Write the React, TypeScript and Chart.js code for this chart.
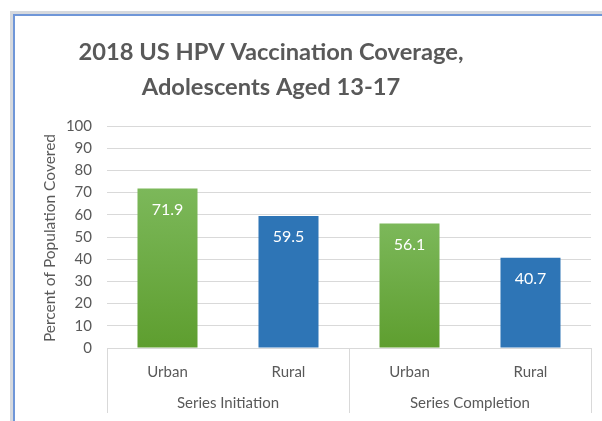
import React, { useEffect, useRef } from 'react';
import { Chart, registerables } from 'chart.js';

Chart.register(...registerables);

const titleLines = ['2018 US HPV Vaccination Coverage,', 'Adolescents Aged 13-17'];
const groups = ['Series Initiation', 'Series Completion'];
const subCategories = ['Urban', 'Rural', 'Urban', 'Rural'];
const values = [71.9, 59.5, 56.1, 40.7];
const yTitle = 'Percent of Population Covered';
const yMin = 0;
const yMax = 100;
const yStep = 10;

const FONT = 'Lato, "Open Sans", sans-serif';
const TEXT = '#595959';
const GRID = '#d9d9d9';
const BLUE = '#2e75b6';
const GREEN_TOP = '#7cb85a';
const GREEN_BOTTOM = '#5e9e2f';

function barColor(ctx: any) {
  const i = ctx.dataIndex;
  if (subCategories[i] === 'Rural') return BLUE;
  const chart = ctx.chart;
  const y = chart.scales && chart.scales.y;
  if (!chart.chartArea || !y) return GREEN_BOTTOM;
  const top = y.getPixelForValue(values[i]);
  const bottom = y.getPixelForValue(0);
  if (!isFinite(top) || !isFinite(bottom) || top === bottom) return GREEN_BOTTOM;
  const g = chart.ctx.createLinearGradient(0, top, 0, bottom);
  g.addColorStop(0, GREEN_TOP);
  g.addColorStop(1, GREEN_BOTTOM);
  return g;
}

const decorPlugin = {
  id: 'decor',
  beforeDraw(chart: any) {
    const c = chart.ctx;
    c.save();
    c.fillStyle = '#ffffff';
    c.fillRect(0, 0, chart.width, chart.height);
    c.restore();
  },
  afterDatasetsDraw(chart: any) {
    const c = chart.ctx;
    const meta = chart.getDatasetMeta(0);
    c.save();
    c.fillStyle = '#ffffff';
    c.font = `16px ${FONT}`;
    c.textAlign = 'center';
    c.textBaseline = 'middle';
    meta.data.forEach((bar: any, i: number) => {
      c.fillText(values[i].toFixed(1), bar.x, bar.y + 21);
    });
    c.restore();
  },
  afterDraw(chart: any) {
    const c = chart.ctx;
    const area = chart.chartArea;
    const x = chart.scales.x;
    c.save();
    // selection frame
    c.fillStyle = '#d6d9de';
    c.fillRect(10, 11, chart.width - 10, 3);
    c.fillRect(10, 11, 3, chart.height - 11);
    c.fillStyle = '#6f96d8';
    c.fillRect(13, 14, chart.width - 13, 2);
    c.fillRect(13, 14, 2, chart.height - 14);

    // title
    c.fillStyle = TEXT;
    c.font = `bold 23.7px ${FONT}`;
    c.textAlign = 'center';
    c.textBaseline = 'alphabetic';
    c.fillText(titleLines[0], 271, 60);
    c.fillText(titleLines[1], 271, 95);

    // y title
    c.save();
    c.translate(50, 238);
    c.rotate(-Math.PI / 2);
    c.font = `15.5px ${FONT}`;
    c.textAlign = 'center';
    c.textBaseline = 'middle';
    c.fillText(yTitle, 0, 0);
    c.restore();

    // group separators and labels
    const per = subCategories.length / groups.length;
    const half = (x.getPixelForValue(1) - x.getPixelForValue(0)) / 2;
    c.strokeStyle = GRID;
    c.lineWidth = 1;
    const bottomY = 413;
    for (let g = 0; g <= groups.length; g++) {
      let px;
      if (g < groups.length) px = x.getPixelForValue(g * per) - half;
      else px = x.getPixelForValue(subCategories.length - 1) + half;
      px = Math.round(px) + 0.5;
      c.beginPath();
      c.moveTo(px, area.bottom);
      c.lineTo(px, bottomY);
      c.stroke();
    }
    c.fillStyle = TEXT;
    c.font = `15px ${FONT}`;
    c.textAlign = 'center';
    c.textBaseline = 'middle';
    groups.forEach((label, g) => {
      const a = x.getPixelForValue(g * per) - half;
      const b = x.getPixelForValue(g * per + per - 1) + half;
      c.fillText(label, (a + b) / 2, 403);
    });
    c.restore();
  },
};

export default function App() {
  const ref = useRef<HTMLCanvasElement>(null);
  useEffect(() => {
    if (!ref.current) return;
    const chart = new Chart(ref.current, {
      type: 'bar',
      data: {
        labels: subCategories,
        datasets: [
          {
            data: values,
            backgroundColor: barColor as any,
            borderWidth: 0,
            categoryPercentage: 1,
            barPercentage: 0.496,
          },
        ],
      },
      options: {
        responsive: false,
        animation: false,
        devicePixelRatio: 1,
        layout: { padding: { left: 20, top: 126, right: 11, bottom: 0 } },
        plugins: { legend: { display: false }, tooltip: { enabled: false }, title: { display: false } },
        scales: {
          x: {
            grid: { display: false },
            border: { display: false },
            ticks: { color: TEXT, font: { family: FONT, size: 15 }, padding: 7 },
            afterFit: (s: any) => {
              s.height = 73;
            },
          },
          y: {
            min: yMin,
            max: yMax,
            grid: { color: GRID, drawTicks: false },
            border: { display: false },
            ticks: { stepSize: yStep, color: TEXT, font: { family: FONT, size: 15 }, padding: 15 },
            afterFit: (s: any) => {
              s.width = 87;
            },
          },
        },
      },
      plugins: [decorPlugin],
    });
    return () => chart.destroy();
  }, []);
  return (
    <div style={{ position: 'fixed', left: 0, top: 0, width: 602, height: 421 }}>
      <canvas ref={ref} width={602} height={421} style={{ display: 'block' }} />
    </div>
  );
}
